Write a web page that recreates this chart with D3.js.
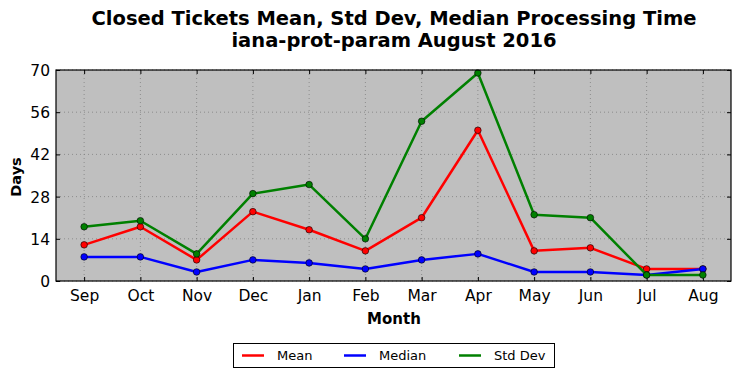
<!DOCTYPE html>
<html><head><meta charset="utf-8">
<script src="https://cdn.jsdelivr.net/npm/d3@7"></script>
<style>body{margin:0;background:#fff}svg{display:block}text{font-family:"DejaVu Sans",sans-serif}</style>
</head><body><svg id="c" width="741" height="378"></svg>
<script>
const months = ["Sep","Oct","Nov","Dec","Jan","Feb","Mar","Apr","May","Jun","Jul","Aug"];
const meanVals = [12,18,7,23,17,10,21,50,10,11,4,4];
const medianVals = [8,8,3,7,6,4,7,9,3,3,2,4];
const stdVals = [18,20,9,29,32,14,53,69,22,21,2,2];
const yTicks = [0,14,28,42,56,70];
const titleLines = ["Closed Tickets Mean, Std Dev, Median Processing Time","iana-prot-param August 2016"];

const svg = d3.select("#c");
const L=56, R=731, T=70, B=281;
const x = d3.scaleLinear().domain([-0.5, months.length-0.5]).range([L,R]);
const y = d3.scaleLinear().domain([0,70]).range([B,T]);

svg.append("rect").attr("x",L).attr("y",T).attr("width",R-L).attr("height",B-T).attr("fill","#bfbfbf");

// grid
const g = svg.append("g");
months.forEach((m,i)=>{
  g.append("line").attr("x1",x(i)).attr("x2",x(i)).attr("y1",T).attr("y2",B)
   .attr("stroke","#808080").attr("stroke-width",0.8).attr("stroke-dasharray","1,3");
});
yTicks.forEach(v=>{
  g.append("line").attr("x1",L).attr("x2",R).attr("y1",y(v)).attr("y2",y(v))
   .attr("stroke","#808080").attr("stroke-width",0.8).attr("stroke-dasharray","1,3");
});

// axes with inward ticks
const ax = d3.axisBottom(x).tickValues(d3.range(months.length)).tickFormat(i=>months[i]).tickSizeInner(-4).tickSizeOuter(0).tickPadding(9);
const gx = svg.append("g").attr("transform",`translate(0,${B})`).call(ax);
const axT = d3.axisTop(x).tickValues(d3.range(months.length)).tickFormat("").tickSizeInner(-4).tickSizeOuter(0);
const gxt = svg.append("g").attr("transform",`translate(0,${T})`).call(axT);
const ay = d3.axisLeft(y).tickValues(yTicks).tickSizeInner(-4).tickSizeOuter(0).tickPadding(6);
const gy = svg.append("g").attr("transform",`translate(${L},0)`).call(ay);
const ayR = d3.axisRight(y).tickValues(yTicks).tickFormat("").tickSizeInner(-4).tickSizeOuter(0);
const gyr = svg.append("g").attr("transform",`translate(${R},0)`).call(ayR);
[gx,gxt,gy,gyr].forEach(a=>{
  a.select(".domain").remove();
  a.selectAll("line").attr("stroke","#000").attr("stroke-width",1);
  a.selectAll("text").attr("font-size",15.5).attr("fill","#000").attr("font-family","DejaVu Sans");
});
gy.selectAll("text").attr("dy","0.36em");

// series
const series = [
  {name:"Mean", vals:meanVals, color:"#ff0000"},
  {name:"Median", vals:medianVals, color:"#0000ff"},
  {name:"Std Dev", vals:stdVals, color:"#008000"}
];
const line = d3.line().x((d,i)=>x(i)).y(d=>y(d));
series.forEach(s=>{
  svg.append("path").datum(s.vals).attr("d",line).attr("fill","none")
    .attr("stroke",s.color).attr("stroke-width",2.5).attr("stroke-linejoin","round");
  svg.append("g").selectAll("circle").data(s.vals).join("circle")
    .attr("cx",(d,i)=>x(i)).attr("cy",d=>y(d)).attr("r",3.3)
    .attr("fill",s.color).attr("stroke","#000").attr("stroke-width",0.6);
});

// frame
svg.append("rect").attr("x",L).attr("y",T).attr("width",R-L).attr("height",B-T)
  .attr("fill","none").attr("stroke","#000").attr("stroke-width",1.2);

// title
svg.append("text").attr("x",394).attr("y",25).attr("text-anchor","middle").attr("font-weight","bold").attr("font-size",19.5).text(titleLines[0]);
svg.append("text").attr("x",394).attr("y",47).attr("text-anchor","middle").attr("font-weight","bold").attr("font-size",19.5).text(titleLines[1]);

// axis labels
svg.append("text").attr("x",394).attr("y",324).attr("text-anchor","middle").attr("font-weight","bold").attr("font-size",15).text("Month");
svg.append("text").attr("transform","translate(21,177) rotate(-90)").attr("text-anchor","middle").attr("font-weight","bold").attr("font-size",14.5).text("Days");

// legend
const lg = svg.append("g");
lg.append("rect").attr("x",233.5).attr("y",343.5).attr("width",321).attr("height",24).attr("fill","#fff").attr("stroke","#000").attr("stroke-width",1);
const lx = [242, 344, 459];
series.forEach((s,i)=>{
  lg.append("line").attr("x1",lx[i]).attr("x2",lx[i]+22).attr("y1",355.5).attr("y2",355.5).attr("stroke",s.color).attr("stroke-width",2.5);
  lg.append("text").attr("x",lx[i]+35).attr("y",360).attr("font-size",13).text(s.name);
});
</script></body></html>
